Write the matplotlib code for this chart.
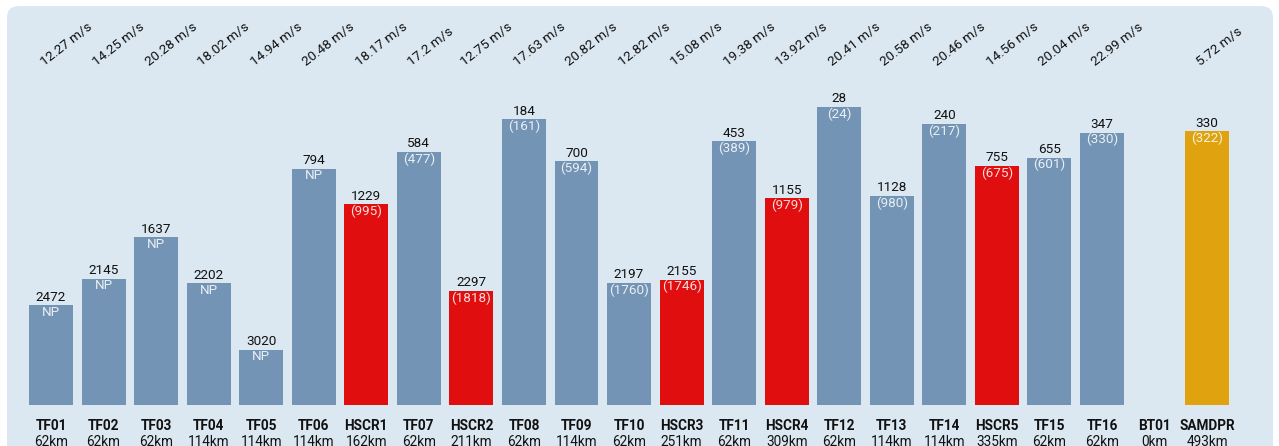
import matplotlib
matplotlib.use("Agg")
import matplotlib.pyplot as plt
import matplotlib.transforms as mtransforms
from matplotlib.patches import FancyBboxPatch

plt.rcParams['font.family'] = ['Roboto', 'DejaVu Sans']

names = ["TF01", "TF02", "TF03", "TF04", "TF05", "TF06", "HSCR1", "TF07", "HSCR2",
         "TF08", "TF09", "TF10", "HSCR3", "TF11", "HSCR4", "TF12", "TF13", "TF14",
         "HSCR5", "TF15", "TF16", "BT01", "SAMDPR"]
distances = [62, 62, 62, 114, 114, 114, 162, 62, 211, 62, 114, 62, 251, 62, 309,
             62, 114, 114, 335, 62, 62, 0, 493]
speeds = [12.27, 14.25, 20.28, 18.02, 14.94, 20.48, 18.17, 17.2, 12.75, 17.63, 20.82,
          12.82, 15.08, 19.38, 13.92, 20.41, 20.58, 20.46, 14.56, 20.04, 22.99, None, 5.72]
ranks = [2472, 2145, 1637, 2202, 3020, 794, 1229, 584, 2297, 184, 700, 2197, 2155,
         453, 1155, 28, 1128, 240, 755, 655, 347, None, 330]
sub_ranks = ["NP", "NP", "NP", "NP", "NP", "NP", "995", "477", "1818", "161", "594",
             "1760", "1746", "389", "979", "24", "980", "217", "675", "601", "330",
             None, "322"]
kinds = ["tf", "tf", "tf", "tf", "tf", "tf", "hscr", "tf", "hscr", "tf", "tf", "tf",
         "hscr", "tf", "hscr", "tf", "tf", "tf", "hscr", "tf", "tf", "bt", "sam"]
rank_total = 3700

colors = {"tf": "#7394b4", "hscr": "#e00e0e", "bt": "#7394b4", "sam": "#e0a30f"}


def main():
    W, H = 1279, 446
    fig = plt.figure(figsize=(W / 100, H / 100), dpi=100)
    fig.patch.set_facecolor("white")

    # rounded background panel
    bg = FancyBboxPatch((7 / 100, -0.5), (1273 - 7) / 100, (H - 6) / 100 + 0.5,
                        boxstyle="round,pad=0,rounding_size=0.12",
                        transform=fig.dpi_scale_trans, facecolor="#dce8f1",
                        edgecolor="none", zorder=-5)
    fig.patches.append(bg)

    step = 52.55
    left = 51 - 0.5 * step
    bottom = H - 405
    px_per_unit = 0.08122
    ax_h = 405 - 6
    ax = fig.add_axes([left / W, bottom / H, 23 * step / W, ax_h / H])
    ax.set_xlim(-0.5, 22.5)
    ax.set_ylim(0, ax_h / px_per_unit)
    ax.axis("off")

    x = list(range(len(names)))
    heights = [0 if r is None else rank_total - r for r in ranks]
    ax.bar(x, heights, width=0.837, color=[colors[k] for k in kinds], zorder=2)

    fs = 9.7
    tr = mtransforms.blended_transform_factory(ax.transData, fig.transFigure)
    for i in x:
        if ranks[i] is not None:
            ax.annotate(str(ranks[i]), (i, heights[i]), xytext=(0, 1.2),
                        textcoords="offset points", ha="center", va="bottom",
                        fontsize=fs, color="#111111")
            ax.annotate(sub_ranks[i] if sub_ranks[i] == "NP" else "(%s)" % sub_ranks[i],
                        (i, heights[i]), xytext=(0, -0.3),
                        textcoords="offset points", ha="center", va="top",
                        fontsize=fs, color="white", alpha=0.85)
        if speeds[i] is not None:
            ax.text(i - 7 / step, (H - 66.5) / H, "%g m/s" % speeds[i], transform=tr,
                    rotation=38, rotation_mode="anchor", ha="left", va="baseline",
                    fontsize=9.7, color="#111111", clip_on=False)
        ax.text(i, (H - 425.5) / H, names[i], transform=tr, ha="center", va="center",
                fontsize=9.8, fontweight="bold", color="#111111", clip_on=False)
        ax.text(i, (H - 441.5) / H, "%dkm" % distances[i], transform=tr, ha="center",
                va="center", fontsize=9.8, color="#111111", clip_on=False)

    fig.savefig("out.png", dpi=100, facecolor="white")


if __name__ == '__main__':
    main()
